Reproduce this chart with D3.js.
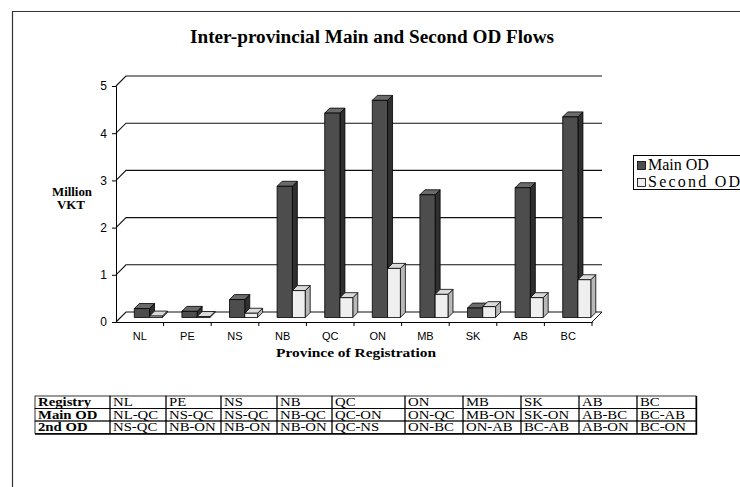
<!DOCTYPE html>
<html>
<head>
<meta charset="utf-8">
<script src="https://cdn.jsdelivr.net/npm/d3@7"></script>
<style>
  body { margin: 0; background: #fff; }
  svg { display: block; }
</style>
</head>
<body>
<div id="chart"></div>
<script>
// data
const provinces = ["NL", "PE", "NS", "NB", "QC", "ON", "MB", "SK", "AB", "BC"];
const mainOD = [0.19, 0.13, 0.38, 2.78, 4.33, 4.6, 2.6, 0.2, 2.75, 4.25];
const secondOD = [0.03, 0.02, 0.09, 0.57, 0.42, 1.04, 0.49, 0.23, 0.42, 0.8];
const seriesNames = ["Main OD", "Second OD"];
const yTicks = [0, 1, 2, 3, 4, 5];
const rowHeads = ["Registry", "Main OD", "2nd OD"];
const mainFlows = ["NL-QC", "NS-QC", "NS-QC", "NB-QC", "QC-ON", "ON-QC", "MB-ON", "SK-ON", "AB-BC", "BC-AB"];
const secondFlows = ["NS-QC", "NB-ON", "NB-ON", "NB-ON", "QC-NS", "ON-BC", "ON-AB", "BC-AB", "AB-ON", "BC-ON"];

const width = 740, height = 487;
const serif = "'Liberation Serif', 'Times New Roman', serif";
const sans = "'Liberation Sans', Arial, sans-serif";

const svg = d3.select("#chart").append("svg")
  .attr("width", width)
  .attr("height", height);

// page frame
svg.append("line").attr("x1", 12).attr("x2", width).attr("y1", 11.5).attr("y2", 11.5)
  .attr("stroke", "#333").attr("stroke-width", 1.2);
svg.append("line").attr("x1", 12.5).attr("x2", 12.5).attr("y1", 11).attr("y2", height)
  .attr("stroke", "#333").attr("stroke-width", 1.2);

svg.append("text")
  .attr("x", 372).attr("y", 43)
  .attr("text-anchor", "middle")
  .attr("textLength", 364).attr("lengthAdjust", "spacingAndGlyphs")
  .style("font-family", serif).style("font-size", "18px").style("font-weight", "bold")
  .text("Inter-provincial Main and Second OD Flows");

// 3d layout
const depth = 10;      // back wall offset
const barShift = 4.5;  // bars sit half-way into the floor
const barDepth = 5;

const x = d3.scaleBand().domain(provinces).range([116, 592]);
const y = d3.scaleLinear().domain([0, 5]).range([322, 86]);

const grid = svg.append("g");
yTicks.forEach(v => {
  const yy = y(v);
  grid.append("polyline")
    .attr("points", [[116, yy], [116 + depth, yy - depth], [592 + depth, yy - depth]].join(" "))
    .attr("fill", "none").attr("stroke", "#111").attr("stroke-width", 1.1);
});
grid.append("line").attr("x1", 592).attr("y1", y(0)).attr("x2", 592 + depth).attr("y2", y(0) - depth)
  .attr("stroke", "#111");

// axes
const yAxis = svg.append("g").attr("transform", "translate(116,0)")
  .call(d3.axisLeft(y).tickValues(yTicks).tickFormat(d3.format("d")).tickSize(4).tickPadding(5));
const xAxis = svg.append("g").attr("transform", `translate(0,${y(0)})`)
  .call(d3.axisBottom(x).tickSize(0).tickPadding(10));
xAxis.selectAll(".tick").append("line")
  .attr("x1", x.bandwidth() / 2).attr("x2", x.bandwidth() / 2).attr("y2", 4)
  .attr("stroke", "#000");
[yAxis, xAxis].forEach(a => {
  a.select(".domain").attr("stroke", "#000");
  a.selectAll("text").style("font-family", sans).style("font-size", "11px").attr("fill", "#000");
});
yAxis.selectAll("text").style("font-size", "12px");

svg.append("text").attr("x", 72).attr("y", 196).attr("text-anchor", "middle")
  .attr("textLength", 40).attr("lengthAdjust", "spacingAndGlyphs")
  .style("font-family", serif).style("font-size", "12px").style("font-weight", "bold").text("Million");
svg.append("text").attr("x", 71).attr("y", 209).attr("text-anchor", "middle")
  .attr("textLength", 28).attr("lengthAdjust", "spacingAndGlyphs")
  .style("font-family", serif).style("font-size", "12px").style("font-weight", "bold").text("VKT");
svg.append("text").attr("x", 356).attr("y", 357).attr("text-anchor", "middle")
  .attr("textLength", 160).attr("lengthAdjust", "spacingAndGlyphs")
  .style("font-family", serif).style("font-size", "13px").style("font-weight", "bold")
  .text("Province of Registration");

// bars
const styles = [
  { front: "#4d4d4d", top: "#6b6b6b", side: "#2f2f2f", x0: 0.29, x1: 0.61 },
  { front: "#efefef", top: "#dadada", side: "#b8b8b8", x0: 0.61, x1: 0.88 }
];

const bars = svg.append("g");
provinces.forEach((p, i) => {
  [mainOD[i], secondOD[i]].forEach((v, s) => {
    const st = styles[s];
    const bx0 = x(p) + st.x0 * x.bandwidth() + barShift;
    const bx1 = x(p) + st.x1 * x.bandwidth() + barShift;
    const by0 = y(0) - barShift;
    const by1 = y(v) - barShift;
    const g = bars.append("g").attr("stroke", "#000").attr("stroke-width", 0.8).attr("stroke-linejoin", "round");
    g.append("polygon")
      .attr("points", [[bx1, by0], [bx1 + barDepth, by0 - barDepth], [bx1 + barDepth, by1 - barDepth], [bx1, by1]].join(" "))
      .attr("fill", st.side);
    g.append("polygon")
      .attr("points", [[bx0, by1], [bx0 + barDepth, by1 - barDepth], [bx1 + barDepth, by1 - barDepth], [bx1, by1]].join(" "))
      .attr("fill", st.top);
    g.append("rect")
      .attr("x", bx0).attr("y", by1)
      .attr("width", bx1 - bx0).attr("height", by0 - by1)
      .attr("fill", st.front);
  });
});

// legend
const legend = svg.append("g");
legend.append("rect").attr("x", 633.5).attr("y", 155.5).attr("width", 130).attr("height", 34)
  .attr("fill", "#fff").attr("stroke", "#000");
seriesNames.forEach((name, i) => {
  legend.append("rect").attr("x", 637.5).attr("y", 161.5 + i * 17).attr("width", 8).attr("height", 8)
    .attr("fill", styles[i].front).attr("stroke", "#000").attr("stroke-width", 0.8);
  const t = legend.append("text").attr("x", 648).attr("y", 170 + i * 17)
    .style("font-family", serif).style("font-size", "16px").text(name);
  if (i === 1) t.attr("textLength", 92).attr("lengthAdjust", "spacing");
});

// table
const colEdges = [35, 110, 166, 221, 277, 332, 405, 463, 521, 579, 637, 696];
const rowTop = 396, rowH = 12.5;
const rows = [provinces, mainFlows, secondFlows];
const table = svg.append("g");
rows.forEach((cells, r) => {
  const yy = rowTop + r * rowH;
  [rowHeads[r], ...cells].forEach((c, j) => {
    table.append("rect")
      .attr("x", colEdges[j]).attr("y", yy)
      .attr("width", colEdges[j + 1] - colEdges[j]).attr("height", rowH)
      .attr("fill", "none").attr("stroke", "#000").attr("stroke-width", 0.8);
    table.append("text")
      .attr("transform", `translate(${colEdges[j] + 3},${yy + rowH - 2.2}) scale(1.18,1)`)
      .style("font-family", serif).style("font-size", "12.5px")
      .style("font-weight", j === 0 ? "bold" : "normal")
      .text(c);
  });
});
// heavier bottom and right edge of the table
table.append("polyline")
  .attr("points", [[colEdges[0], rowTop + 3 * rowH + 0.5], [696.5, rowTop + 3 * rowH + 0.5], [696.5, rowTop]].join(" "))
  .attr("fill", "none").attr("stroke", "#000").attr("stroke-width", 1.4);
</script>
</body>
</html>
